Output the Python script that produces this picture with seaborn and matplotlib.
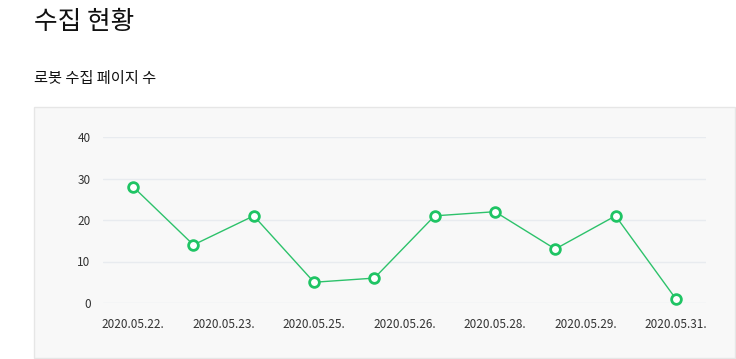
import numpy as np
import pandas as pd
import seaborn as sns
import matplotlib.pyplot as plt
from matplotlib.patches import Rectangle

dates = ["2020.05.22.", "2020.05.23.", "2020.05.24.", "2020.05.25.", "2020.05.26.",
         "2020.05.27.", "2020.05.28.", "2020.05.29.", "2020.05.30.", "2020.05.31."]
pages = [28, 14, 21, 5, 6, 21, 22, 13, 21, 1]
y_ticks = [0, 10, 20, 30, 40]

sns.set_style("white")
plt.rcParams["font.family"] = ["Noto Sans CJK KR", "DejaVu Sans"]

df = pd.DataFrame({"idx": np.arange(len(dates)), "pages": pages})

fig = plt.figure(figsize=(7.36, 3.59), dpi=100)
fig.patch.set_facecolor("white")

# panel background
fig.patches.append(Rectangle((34 / 736, 1 / 359), 701 / 736, 251 / 359,
                             transform=fig.transFigure, facecolor="#f8f8f8",
                             edgecolor="#e6e6e6", lw=1, zorder=-1))

fig.text(34 / 736, 1 - 22 / 359, "수집 현황", fontsize=18.5, va="center", ha="left", color="#111")
fig.text(34 / 736, 1 - 78 / 359, "로봇 수집 페이지 수", fontsize=11, va="center", ha="left", color="#111")

ax = fig.add_axes([103 / 736, 1 - 303 / 359, 603 / 736, 166 / 359])
ax.set_zorder(2)
ax.set_facecolor("none")
sns.lineplot(data=df, x="idx", y="pages", ax=ax, color="#2dc26b", lw=1,
             marker="o", markersize=7, markerfacecolor="white",
             markeredgecolor="#1fc464", markeredgewidth=2)
for line in ax.lines:
    line.set_clip_on(False)

ax.set_xlim(-0.5, len(dates) - 0.5)
ax.set_ylim(0, 40)
ax.set_yticks(y_ticks)
ax.yaxis.grid(True, color="#e8ebef", lw=1)
ax.set_axisbelow(True)

tick_pos = np.arange(0, len(dates), 1.5)
ax.set_xticks(tick_pos)
ax.set_xticklabels([dates[int(p)] for p in tick_pos])
ax.tick_params(axis="both", length=0, labelsize=8.5, colors="#333")
ax.tick_params(axis="x", pad=11)
ax.tick_params(axis="y", pad=9)
ax.set_xlabel("")
ax.set_ylabel("")
for s in ax.spines.values():
    s.set_visible(False)

fig.savefig("out.png", dpi=100)
